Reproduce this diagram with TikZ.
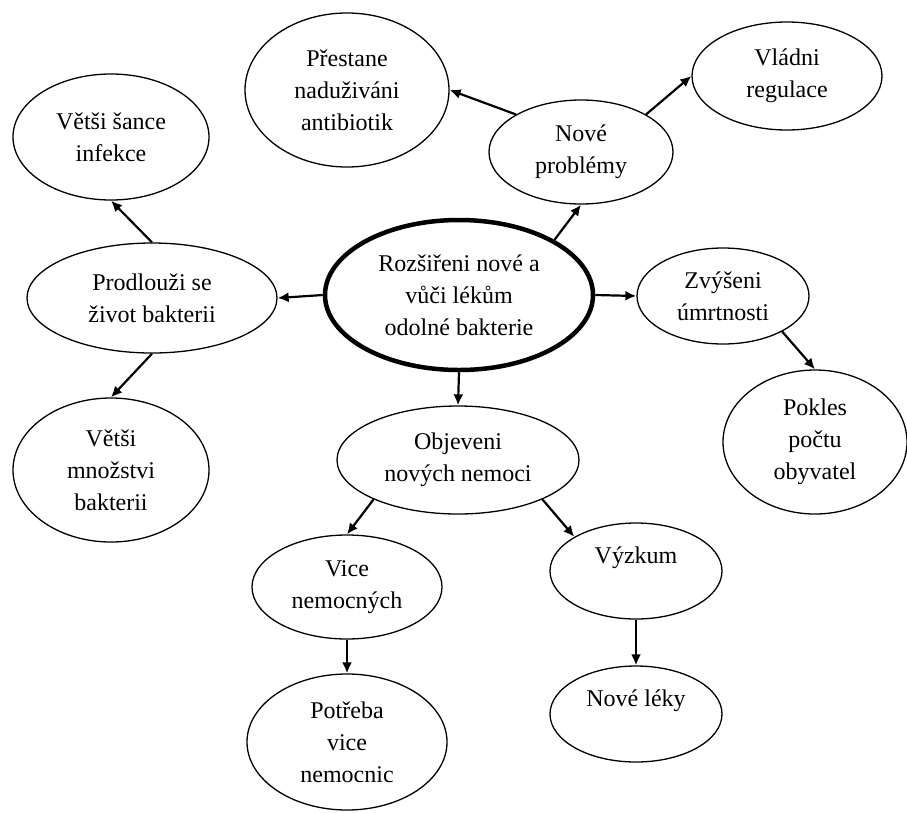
\documentclass[tikz,border=0pt]{standalone}
\usepackage{fontspec}
\setmainfont{Liberation Serif}
\usetikzlibrary{shapes.geometric,arrows.meta}

\begin{document}
\begin{tikzpicture}[x=1pt,y=-1pt,
    bubble/.style={ellipse, draw, line width=1.3pt, inner sep=0pt, align=center,
      font=\fontsize{24}{32}\selectfont},
    core/.style={bubble, line width=4.5pt},
    link/.style={-{Latex[length=11pt,width=10pt]}, line width=2.2pt}]
  \useasboundingbox[fill=white] (0,0) rectangle (907,812);

  % Central effect
  \node[core, minimum width=268pt, minimum height=150pt] (root) at (459,295)
    {Rozšiřeni nové a\\vůči lékům\\odolné bakterie};

  % Consequences
  \foreach \name/\x/\y/\w/\h/\txt in {
      prest/347/90/204/154/{Přestane\\naduživáni\\antibiotik},
      sance/111/137/196/126/{Větši šance\\infekce},
      prod/152/298/250/110/{Prodlouži se\\život bakterii},
      vlad/787/76/190/108/{Vládni\\regulace},
      prob/581/152/184/104/{Nové\\problémy},
      zvys/723/296/172/96/{Zvýšeni\\úmrtnosti},
      pokl/815/442/184/144/{Pokles\\počtu\\obyvatel},
      mnoz/111/470/196/144/{Větši\\množstvi\\bakterii},
      objev/458/460/242/108/{Objeveni\\nových nemoci},
      vice/347/587/190/104/{Vice\\nemocných},
      potr/347/742/200/136/{Potřeba\\vice\\nemocnic},
      vyzk/636/571/172/96/{Výzkum\\\mbox{}},
      leky/636/714/172/96/{Nové léky\\\mbox{}}}
    \node[bubble, minimum width=\w pt, minimum height=\h pt] (\name) at (\x,\y) {\txt};

  % Connections
  \foreach \a/\b in {root.west/prod.east, prod.north/sance.south, prod.south/mnoz.north,
      root.30/prob.south, prob.150/prest.east, prob.30/vlad.west,
      root.east/zvys.west, zvys.-31/pokl.north,
      root.south/objev.north, objev.205/vice.north, objev.-25/vyzk.151,
      vice.south/potr.north, vyzk.south/leky.north}
    \draw[link] (\a) -- (\b);
\end{tikzpicture}
\end{document}
